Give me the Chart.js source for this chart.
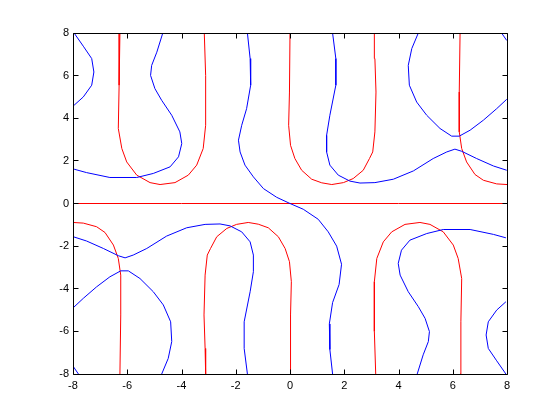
<!DOCTYPE html>
<html>
<head>
<meta charset="utf-8">
<script src="https://cdn.jsdelivr.net/npm/chart.js@4/dist/chart.umd.min.js"></script>
<style>
html,body{margin:0;padding:0;background:#fff;}
canvas{display:block;}
</style>
</head>
<body>
<canvas id="c" width="560" height="420"></canvas>
<script>
// Tick labels
const xTicks = [-8,-6,-4,-2,0,2,4,6,8];
const yTicks = [-8,-6,-4,-2,0,2,4,6,8];

// Red curves
const redAxis = [[-8,0],[-4,0],[0,0],[4,0],[8,0]];
const redUpLeft = [[-6.27,8],[-6.3,5.55],[-6.33,3.52],[-6.2,2.58],[-6.02,1.95],[-5.65,1.33],[-5.16,0.98],[-4.79,0.89],[-4.24,0.98],[-3.75,1.33],[-3.44,1.8],[-3.2,2.58],[-3.11,3.67],[-3.11,6.0],[-3.16,8]];
const redUpMid = [[0,8],[-0.02,5.23],[-0.05,3.67],[0.02,2.73],[0.18,2.11],[0.43,1.56],[0.8,1.14],[1.17,0.97],[1.54,0.89],[1.97,0.98],[2.33,1.17],[2.7,1.56],[2.93,2.11],[3.05,2.42],[3.13,3.36],[3.17,5.23],[3.13,6.8],[3.11,8]];
const redUpRight = [[6.27,8],[6.24,5.23],[6.24,3.36],[6.33,2.58],[6.51,1.95],[6.82,1.36],[7.13,1.09],[7.62,0.92],[8,0.89]];
const redLowRight = [[6.27,-8],[6.3,-5.55],[6.33,-3.52],[6.2,-2.58],[6.02,-1.95],[5.65,-1.33],[5.16,-0.98],[4.79,-0.89],[4.24,-0.98],[3.75,-1.33],[3.44,-1.8],[3.2,-2.58],[3.11,-3.67],[3.11,-6.0],[3.16,-8]];
const redLowMid = [[0,-8],[0.02,-5.23],[0.05,-3.67],[-0.02,-2.73],[-0.18,-2.11],[-0.43,-1.56],[-0.8,-1.14],[-1.17,-0.97],[-1.54,-0.89],[-1.97,-0.98],[-2.33,-1.17],[-2.7,-1.56],[-2.93,-2.11],[-3.05,-2.42],[-3.13,-3.36],[-3.17,-5.23],[-3.13,-6.8],[-3.11,-8]];
const redLowLeft = [[-6.27,-8],[-6.24,-5.23],[-6.24,-3.36],[-6.33,-2.58],[-6.51,-1.95],[-6.82,-1.36],[-7.13,-1.09],[-7.62,-0.92],[-8,-0.89]];

// Blue curves
const blueTopLeftEdge = [[-7.96,8],[-7.62,7.38],[-7.31,6.8],[-7.23,6.17],[-7.31,5.55],[-7.62,5.0],[-7.96,4.61]];
const blueBotRightEdge = [[7.96,-8],[7.62,-7.38],[7.31,-6.8],[7.23,-6.17],[7.31,-5.55],[7.62,-5.0],[7.96,-4.61]];
const blueUpLeft = [[-7.96,1.61],[-7.5,1.45],[-6.64,1.22],[-5.65,1.22],[-5.04,1.41],[-4.42,1.72],[-4.11,2.19],[-3.99,2.81],[-4.06,3.36],[-4.36,4.14],[-4.73,4.84],[-4.98,5.39],[-5.14,6.01],[-5.1,6.48],[-4.91,7.1],[-4.69,8]];
const blueLowRight = [[7.96,-1.61],[7.5,-1.45],[6.64,-1.22],[5.65,-1.22],[5.04,-1.41],[4.42,-1.72],[4.11,-2.19],[3.99,-2.81],[4.06,-3.36],[4.36,-4.14],[4.73,-4.84],[4.98,-5.39],[5.14,-6.01],[5.1,-6.48],[4.91,-7.1],[4.69,-8]];
const blueCenter = [[-1.57,8],[-1.47,6.8],[-1.45,5.55],[-1.6,4.45],[-1.78,3.67],[-1.9,2.97],[-1.84,2.42],[-1.66,1.8],[-1.35,1.25],[-0.98,0.7],[-0.49,0.29],[0,0],[0.49,-0.27],[1.04,-0.74],[1.41,-1.33],[1.72,-2.0],[1.9,-2.85],[1.81,-3.8],[1.57,-4.65],[1.45,-5.65],[1.47,-6.85],[1.57,-8]];
const blueUpRight = [[1.57,8],[1.69,6.8],[1.69,5.55],[1.47,4.14],[1.35,3.2],[1.35,2.42],[1.47,1.8],[1.78,1.33],[2.21,1.05],[2.58,0.96],[3.13,0.98],[3.81,1.14],[4.55,1.53],[5.28,2.11],[5.78,2.42],[6.08,2.55],[6.33,2.45],[6.88,2.11],[7.5,1.76],[7.99,1.56]];
const blueLowLeft = [[-1.57,-8],[-1.69,-6.8],[-1.69,-5.55],[-1.47,-4.14],[-1.35,-3.2],[-1.35,-2.42],[-1.47,-1.8],[-1.78,-1.33],[-2.21,-1.05],[-2.58,-0.96],[-3.13,-0.98],[-3.81,-1.14],[-4.55,-1.53],[-5.28,-2.11],[-5.78,-2.42],[-6.08,-2.55],[-6.33,-2.45],[-6.88,-2.11],[-7.5,-1.76],[-7.99,-1.56]];
const blueVUp = [[4.73,8],[4.49,7.27],[4.36,6.48],[4.4,5.55],[4.67,4.76],[5.04,4.14],[5.53,3.52],[5.96,3.16],[6.24,3.16],[6.64,3.44],[7.13,3.91],[7.62,4.45],[7.99,4.89]];
const blueVLow = [[-4.73,-8],[-4.49,-7.27],[-4.36,-6.48],[-4.4,-5.55],[-4.67,-4.76],[-5.04,-4.14],[-5.53,-3.52],[-5.96,-3.16],[-6.24,-3.16],[-6.64,-3.44],[-7.13,-3.91],[-7.62,-4.45],[-7.99,-4.89]];
const blueCornerTR = [[7.8,8],[7.99,7.65]];
const blueCornerBL = [[-7.8,-8],[-7.99,-7.65]];

const redCurves = [redUpLeft, redUpMid, redUpRight, redLowRight, redLowMid, redLowLeft, redAxis];
const blueCurves = [blueTopLeftEdge, blueBotRightEdge, blueUpLeft, blueLowRight, blueCenter, blueUpRight, blueLowLeft, blueVUp, blueVLow, blueCornerTR, blueCornerBL];

function mk(arr, color){
  return {data: arr.map(p=>({x:p[0], y:p[1]})), borderColor: color, backgroundColor: color, borderWidth: 1,
    showLine: true, pointRadius: 0, tension: 0, fill: false};
}
const datasets = [
  ...blueCurves.map(a=>mk(a,'#0000ff')),
  ...redCurves.map(a=>mk(a,'#ff0000'))
];

const boxPlugin = {
  id: 'box',
  afterDraw(chart){
    const ctx = chart.ctx, a = chart.chartArea;
    const xs = chart.scales.x, ys = chart.scales.y;
    const L = 5;
    const l = Math.round(a.left)+0.5, r = Math.round(a.right)+0.5;
    const t = Math.round(a.top)+0.5, b = Math.round(a.bottom)+0.5;
    ctx.save();
    ctx.strokeStyle = '#000';
    ctx.lineWidth = 1;
    ctx.beginPath();
    ctx.moveTo(l, t); ctx.lineTo(r, t); ctx.lineTo(r, b); ctx.lineTo(l, b); ctx.closePath();
    xTicks.forEach(v=>{
      const px = Math.round(xs.getPixelForValue(v))+0.5;
      ctx.moveTo(px, b); ctx.lineTo(px, b-L);
      ctx.moveTo(px, t); ctx.lineTo(px, t+L);
    });
    yTicks.forEach(v=>{
      const py = Math.floor(ys.getPixelForValue(v))+0.5;
      ctx.moveTo(l, py); ctx.lineTo(l+L, py);
      ctx.moveTo(r, py); ctx.lineTo(r-L, py);
    });
    ctx.stroke();
    ctx.restore();
  }
};

const font = {family: '"Liberation Sans", Arial, sans-serif', size: 11};

new Chart(document.getElementById('c'), {
  type: 'scatter',
  data: {datasets},
  options: {
    responsive: false,
    devicePixelRatio: 1,
    animation: false,
    layout: {padding: {top: 33, right: 53, left: 0, bottom: 0}},
    plugins: {legend: {display: false}, tooltip: {enabled: false}},
    scales: {
      x: {
        type: 'linear', min: -8, max: 8,
        afterBuildTicks: s => { s.ticks = xTicks.map(v=>({value:v})); },
        afterFit: s => { s.height = 46; },
        grid: {display: false, drawTicks: false},
        border: {display: false},
        ticks: {color: '#000', font, padding: 5, maxRotation: 0, autoSkip: false}
      },
      y: {
        type: 'linear', min: -8, max: 8,
        afterBuildTicks: s => { s.ticks = yTicks.map(v=>({value:v})); },
        afterFit: s => { s.width = 73; },
        grid: {display: false, drawTicks: false},
        border: {display: false},
        ticks: {color: '#000', font, padding: 4, autoSkip: false}
      }
    }
  },
  plugins: [boxPlugin]
});
</script>
</body>
</html>
